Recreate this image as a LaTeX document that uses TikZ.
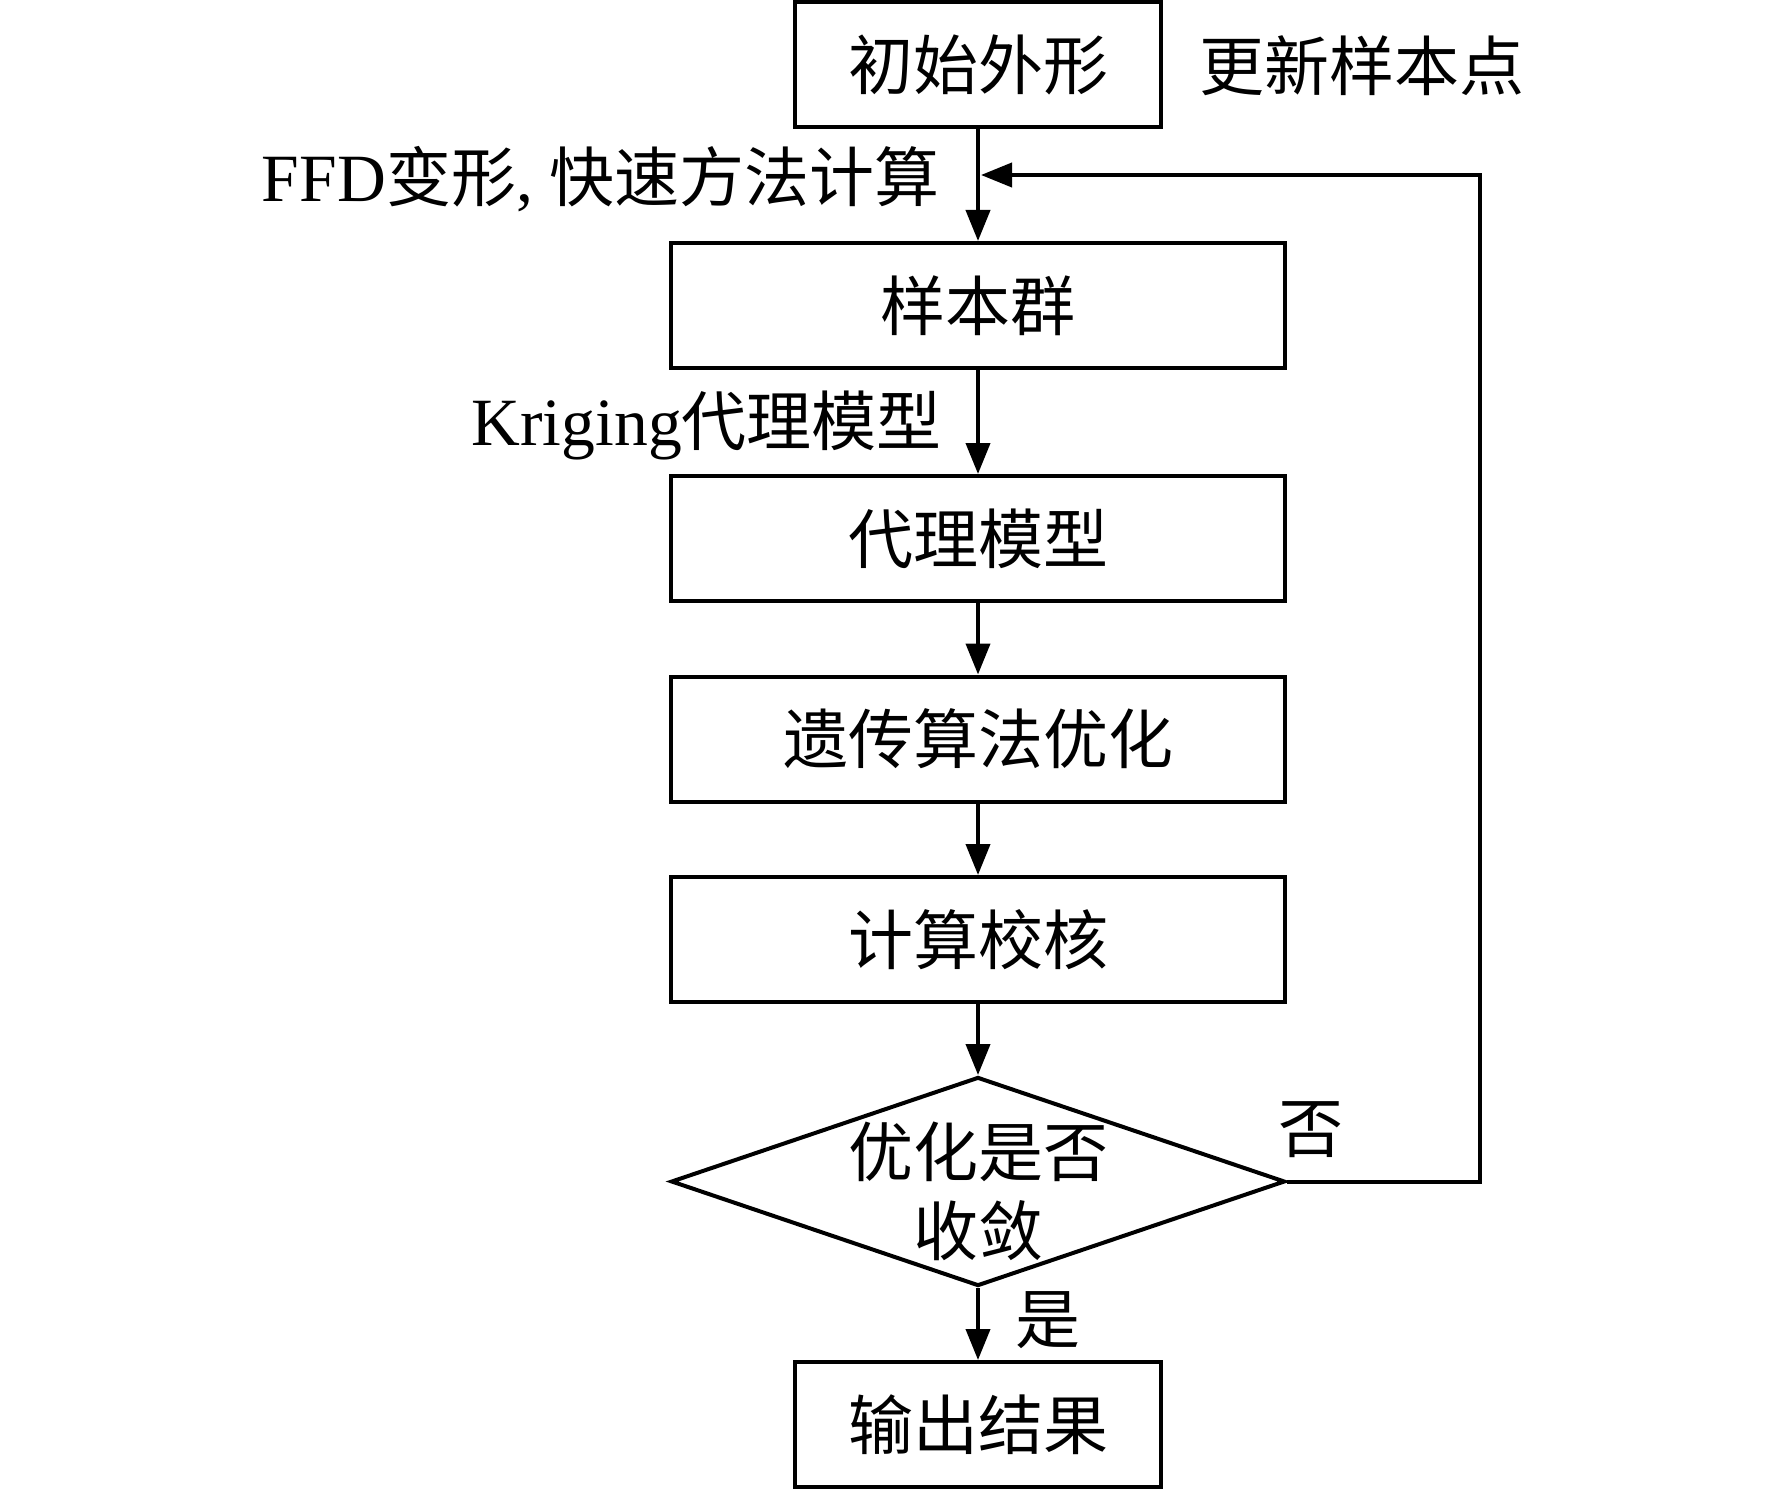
\documentclass[tikz,border=0pt]{standalone}
\usepackage{fontspec}
\setmainfont[Scale=1.04]{Liberation Serif}
\newfontfamily\cjk{Noto Sans CJK SC}
\newcommand\zhtext[1]{{\cjk #1}}
\usetikzlibrary{arrows.meta,shapes.geometric}
\begin{document}
\begin{tikzpicture}[x=1pt,y=-1pt,
  txt/.style={font=\fontsize{65}{79}\selectfont, inner sep=0pt},
  box/.style={draw, line width=4pt, minimum height=125pt, inner sep=0pt, txt},
  wide/.style={box, minimum width=614pt},
  narrow/.style={box, minimum width=366pt},
  decision/.style={diamond, draw, line width=4pt, minimum width=614pt, minimum height=209pt, inner sep=0pt},
  arr/.style={line width=4pt, line join=miter, -{Triangle[length=31pt,width=24pt]}}]
\useasboundingbox (0,0) rectangle (1772,1490);
\fill[white] (0,0) rectangle (1772,1490);
\node[narrow] (init) at (978,64.5) {\zhtext{初始外形}};
\node[wide] (samp) at (978,305.5) {\zhtext{样本群}};
\node[wide] (surr) at (978,538.5) {\zhtext{代理模型}};
\node[wide] (ga) at (978,739) {\zhtext{遗传算法优化}};
\node[wide] (chk) at (978,939.5) {\zhtext{计算校核}};
\node[decision, label={[txt, align=center, yshift=-10pt]center:{\zhtext{优化是否}\\\zhtext{收敛}}}] (dec) at (978,1181.5) {};
\node[narrow] (out) at (978,1424.5) {\zhtext{输出结果}};
\node[txt] (upd) at (1362,66) {\zhtext{更新样本点}};
\node[txt, anchor=east] (ffd) at (940,179) {FFD\zhtext{变形}, \zhtext{快速方法计算}};
\node[txt, anchor=east] (krig) at (942,425) {Kriging\zhtext{代理模型}};
\node[txt] (no) at (1311,1130) {\zhtext{否}};
\node[txt] (yes) at (1048,1320) {\zhtext{是}};
\draw[arr] (init) -- (samp);
\draw[arr] (samp) -- (surr);
\draw[arr] (surr) -- (ga);
\draw[arr] (ga) -- (chk);
\draw[arr] (chk) -- (dec);
\draw[arr] (dec) -- (out);
\coordinate (fbr) at (1480,175);
\coordinate (fb) at (981,175);
\draw[arr] (dec.east) -| (fbr) -- (fb);
\end{tikzpicture}
\end{document}
